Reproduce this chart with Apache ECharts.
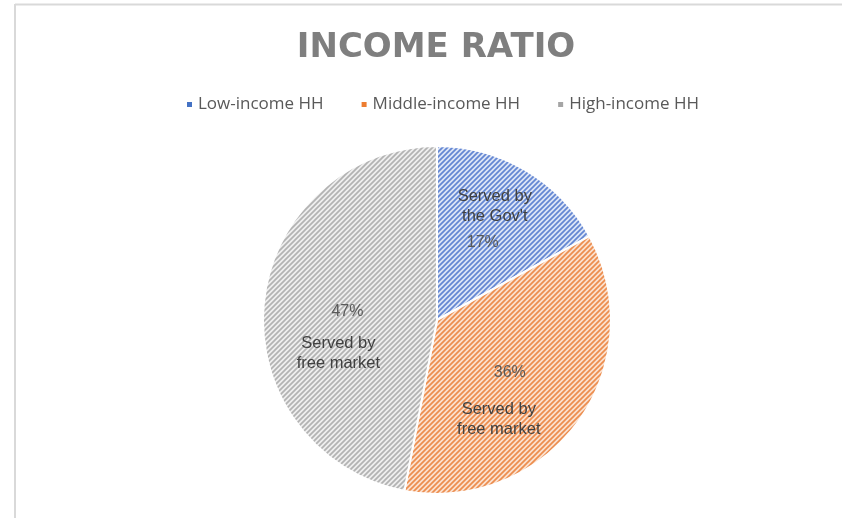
<!DOCTYPE html>
<html><head><meta charset="utf-8">
<script src="https://cdn.jsdelivr.net/npm/echarts@6/dist/echarts.min.js"></script>
<style>html,body{margin:0;padding:0;background:#fff}#c{width:842px;height:518px}</style>
</head><body><div id="c"></div>
<script>
const categories = ['Low-income HH', 'Middle-income HH', 'High-income HH'];
const values = [17, 36, 47];
const notes = ["Served by\nthe Gov't", 'Served by\nfree market', 'Served by\nfree market'];

const baseColors = ['#4472C4', '#ED7D31', '#A5A5A5'];
const stripeBg = ['#dde5f6', '#fbe1cf', '#eeeeee'];
const stripeFg = ['#6386d2', '#ec8d4e', '#b2b2b2'];
const noteOffset = [[12, -36], [-11, 47], [-9, 42]];

function stripe(bg, fg) {
  const s = 5, c = document.createElement('canvas');
  c.width = c.height = s;
  const x = c.getContext('2d');
  x.fillStyle = bg; x.fillRect(0, 0, s, s);
  x.strokeStyle = fg; x.lineWidth = 1.7;
  x.beginPath();
  x.moveTo(-1, s + 1); x.lineTo(s + 1, -1);
  x.moveTo(-1, 1); x.lineTo(1, -1);
  x.moveTo(s - 1, s + 1); x.lineTo(s + 1, s - 1);
  x.stroke();
  return { image: c, repeat: 'repeat' };
}

const chart = echarts.init(document.getElementById('c'));
chart.setOption({
  animation: false,
  backgroundColor: '#fff',
  title: {
    text: 'INCOME RATIO', left: 431, top: 26, textAlign: 'center',
    textStyle: { fontFamily: 'DejaVu Sans', fontWeight: 'bold', fontSize: 34, color: '#7f7f7f' }
  },
  legend: {
    top: 91, left: 180, icon: 'rect', itemWidth: 7, itemHeight: 7, itemGap: 36,
    textStyle: { fontFamily: 'Open Sans', fontSize: 17, color: '#595959' },
    data: categories.map((n, i) => ({ name: n, itemStyle: { color: baseColors[i] } }))
  },
  graphic: [
    { type: 'line', shape: { x1: 15, y1: 4.5, x2: 842, y2: 4.5 }, style: { stroke: '#d9d9d9', lineWidth: 2 }, silent: true },
    { type: 'line', shape: { x1: 15, y1: 4, x2: 15, y2: 518 }, style: { stroke: '#d9d9d9', lineWidth: 2 }, silent: true }
  ],
  series: [
    {
      type: 'pie', center: [437, 320], radius: 174, startAngle: 90, clockwise: true,
      itemStyle: { borderColor: '#fff', borderWidth: 2 },
      label: { position: 'inside', formatter: '{c}%', fontFamily: 'Liberation Sans', fontSize: 16, color: '#595959' },
      labelLine: { show: false },
      emphasis: { disabled: true },
      data: categories.map((n, i) => ({ name: n, value: values[i], itemStyle: { color: stripe(stripeBg[i], stripeFg[i]) } }))
    },
    {
      type: 'pie', center: [437, 320], radius: 174, startAngle: 90, clockwise: true, silent: true,
      itemStyle: { color: 'rgba(0,0,0,0)' },
      label: { position: 'inside', formatter: p => notes[p.dataIndex], fontFamily: 'Liberation Sans', fontSize: 16.5, lineHeight: 20, color: '#404040' },
      labelLine: { show: false },
      labelLayout: p => ({ dx: noteOffset[p.dataIndex][0], dy: noteOffset[p.dataIndex][1] }),
      emphasis: { disabled: true },
      data: categories.map((n, i) => ({ name: n, value: values[i] }))
    }
  ]
});
</script></body></html>
